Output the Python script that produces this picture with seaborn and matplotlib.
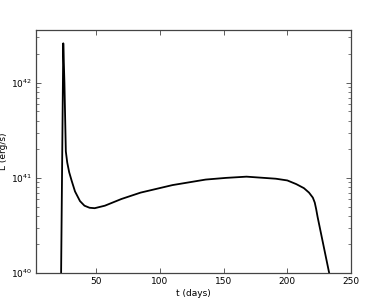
import numpy as np
import pandas as pd
import seaborn as sns
import matplotlib
matplotlib.use("Agg")
import matplotlib.pyplot as plt

# Light curve values
t_days = [21.9, 22.7, 24.4, 25.3, 26.4, 27.5, 29.0, 31.0, 33.6, 37.5, 41.0, 45.0,
          49.0, 57.0, 70.0, 85.0, 110.0, 136.0, 152.0, 168.0, 191.0, 200.0,
          207.0, 213.0, 217.0, 220.0, 221.5, 222.6, 223.7, 232.8, 236.0]
lum = [4e39, 1e40, 2.6e42, 1.0e42, 1.9e41, 1.45e41, 1.15e41, 9.3e40, 7.2e40, 5.7e40, 5.1e40, 4.85e40,
       4.8e40, 5.1e40, 6.0e40, 7.0e40, 8.4e40, 9.6e40, 1.0e41, 1.03e41, 9.8e40, 9.4e40,
       8.6e40, 7.8e40, 7.0e40, 6.2e40, 5.5e40, 4.7e40, 3.9e40, 1.0e40, 7e39]

x_ticks = [50, 100, 150, 200, 250]
x_label = "t (days)"
y_label = "L (erg/s)"

df = pd.DataFrame({"t": t_days, "L": lum})

sns.set_style("ticks")
plt.rcParams["font.family"] = ["DejaVu Sans"]
plt.rcParams["mathtext.fontset"] = "dejavusans"

fig = plt.figure(figsize=(3.91, 3.05), dpi=100)
ax = fig.add_axes([0.092, 0.105, 0.806, 0.797])
ax.set_yscale("log")
sns.lineplot(data=df, x="t", y="L", ax=ax, color="black", linewidth=1.3, sort=False)

ax.set_xlim(3, 250)
ax.set_ylim(1e40, 3.6e42)
ax.set_xticks(x_ticks)
ax.set_xlabel(x_label, fontsize=6.5, labelpad=2, color="black")
ax.set_ylabel(y_label, fontsize=6.5, labelpad=2, color="black")

for s in ax.spines.values():
    s.set_color("#444444")
    s.set_linewidth(0.9)
    s.set_visible(True)
ax.tick_params(which="both", direction="in", top=True, right=True, color="#444444",
               labelsize=6.5, pad=3, labelcolor="black")
ax.tick_params(which="major", length=3.5, width=0.6)
ax.tick_params(which="minor", length=2, width=0.5)
ax.xaxis.set_minor_locator(matplotlib.ticker.NullLocator())

fig.savefig("out.png", dpi=100)
